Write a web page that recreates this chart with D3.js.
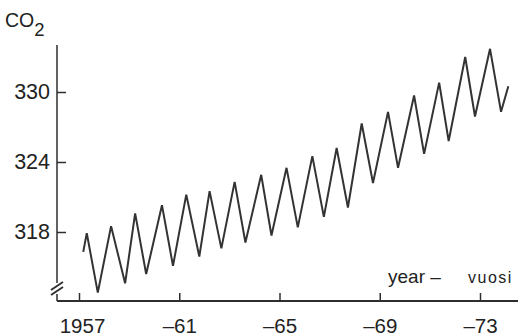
<!DOCTYPE html>
<html>
<head>
<meta charset="utf-8">
<script src="https://cdn.jsdelivr.net/npm/d3@7"></script>
<style>
  body { margin: 0; background: #fff; }
  svg text { font-family: "Liberation Sans", Arial, sans-serif; fill: #222; }
</style>
</head>
<body>
<div id="chart"></div>
<script>
    // turning points of the seasonal zigzag (decimal year, ppm)
    var turnYears = [1957.17, 1957.31, 1957.75, 1958.28, 1958.84, 1959.24, 1959.68, 1960.31, 1960.75,
                     1961.28, 1961.80, 1962.21, 1962.68, 1963.21, 1963.64, 1964.27, 1964.68, 1965.28,
                     1965.73, 1966.31, 1966.77, 1967.28, 1967.73, 1968.28, 1968.73, 1969.33, 1969.73,
                     1970.37, 1970.77, 1971.37, 1971.75, 1972.41, 1972.80, 1973.40, 1973.84, 1974.13]
    var turnPpm = [316.3, 317.9, 312.8, 318.5, 313.6, 319.6, 314.4, 320.3, 315.1,
                   321.2, 315.9, 321.5, 316.6, 322.3, 317.1, 322.9, 317.7, 323.5,
                   318.4, 324.5, 319.3, 325.2, 320.1, 327.3, 322.2, 328.3, 323.5,
                   329.7, 324.7, 330.8, 325.8, 333.0, 327.9, 333.7, 328.3, 330.5]

    var yearTicks = [1957, 1961, 1965, 1969, 1973]
    var ppmTicks = [318, 324, 330]

    var width = 518, height = 336
    var axisX = 57, axisY = 301

    var svg = d3.select("#chart").append("svg")
        .attr("width", width)
        .attr("height", height)

    var x = d3.scaleLinear().domain([1957, 1973]).range([79, 480])
    var y = d3.scaleLinear().domain([318, 330]).range([232, 92])

    var ink = "#2e2e2e"

    // x axis
    var xAxis = d3.axisBottom(x)
        .tickValues(yearTicks)
        .tickSizeInner(-8)
        .tickSizeOuter(0)
        .tickPadding(17)
        .tickFormat(function(d) { return d == 1957 ? "1957" : "\u2013" + String(d).slice(2) })

    var gx = svg.append("g")
        .attr("transform", "translate(0," + axisY + ")")
        .call(xAxis)
    gx.select(".domain").remove()
    gx.selectAll("line").attr("stroke", ink).attr("stroke-width", 1.5)
    gx.selectAll("text").style("font-size", "20.5px").attr("fill", "#222")
    gx.select(".tick text").attr("dx", 3)

    svg.append("line")
        .attr("x1", axisX).attr("x2", width)
        .attr("y1", axisY).attr("y2", axisY)
        .attr("stroke", ink).attr("stroke-width", 1.8)

    // y axis
    var yAxis = d3.axisLeft(y)
        .tickValues(ppmTicks)
        .tickSizeInner(-9)
        .tickSizeOuter(0)
        .tickPadding(7)

    var gy = svg.append("g")
        .attr("transform", "translate(" + axisX + ",0)")
        .call(yAxis)
    gy.select(".domain").remove()
    gy.selectAll("line").attr("stroke", ink).attr("stroke-width", 1.5)
    gy.selectAll("text").style("font-size", "21.5px").attr("fill", "#222")

    // y axis line with break marks
    svg.append("line")
        .attr("x1", axisX).attr("x2", axisX)
        .attr("y1", 45).attr("y2", 283)
        .attr("stroke", ink).attr("stroke-width", 1.5)
    svg.append("line")
        .attr("x1", axisX).attr("x2", axisX)
        .attr("y1", 294).attr("y2", axisY)
        .attr("stroke", ink).attr("stroke-width", 1.5)
    ;[0, 5].forEach(function(o) {
        svg.append("line")
            .attr("x1", 51).attr("y1", 290 + o)
            .attr("x2", 63).attr("y2", 282 + o)
            .attr("stroke", ink).attr("stroke-width", 1.8)
    })

    // CO2 curve
    var line = d3.line()
        .x(function(d, i) { return x(turnYears[i]) })
        .y(function(d) { return y(d) })

    svg.append("path")
        .datum(turnPpm)
        .attr("d", line)
        .attr("fill", "none")
        .attr("stroke", "#333")
        .attr("stroke-width", 2)
        .attr("stroke-linejoin", "miter")

    // labels
    var co2 = svg.append("text").attr("x", 5).attr("y", 27).style("font-size", "19.5px")
    co2.append("tspan").text("CO")
    co2.append("tspan").attr("dy", 9).style("font-size", "18.5px").text("2")

    svg.append("text")
        .attr("x", 388).attr("y", 283)
        .style("font-size", "19px")
        .text("year \u2013")
    svg.append("text")
        .attr("x", 468).attr("y", 283)
        .style("font-size", "16px")
        .style("letter-spacing", "1.5px")
        .text("vuosi")
</script>
</body>
</html>
